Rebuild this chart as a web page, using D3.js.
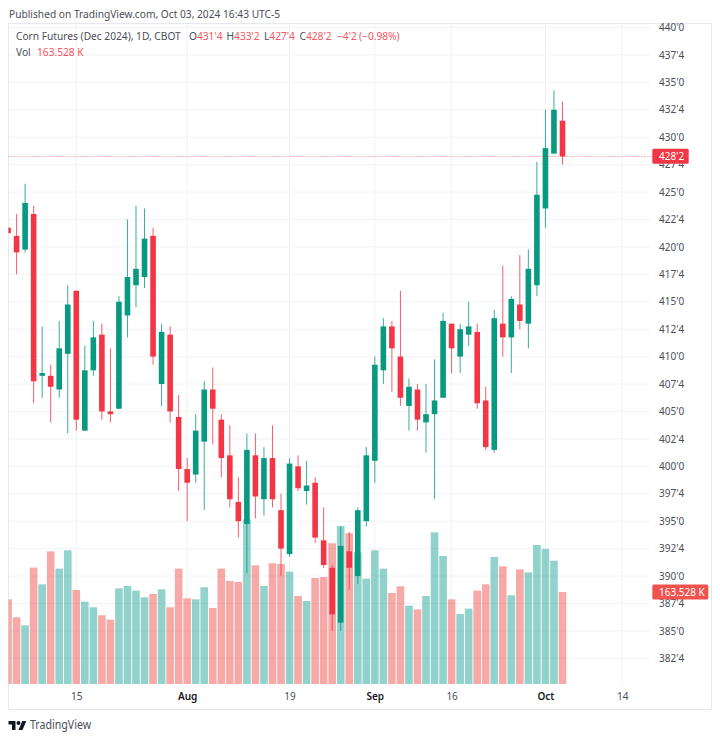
<!DOCTYPE html>
<html>
<head>
<meta charset="utf-8">
<script src="https://cdn.jsdelivr.net/npm/d3@7"></script>
<style>
    html, body { margin: 0; padding: 0; background: #fff; }
    svg { display: block; }
    text { font-family: "Noto Sans", "Open Sans", sans-serif; }
    .axis path, .axis line { display: none; }
    .axis text { fill: #4a4e57; font-size: 10px; font-family: "Noto Sans", sans-serif; }
</style>
</head>
<body>
<svg id="chart" width="720" height="740"></svg>
<script>
// date, open, high, low, close, volume (K)
const rows = [
    ["Jul 2", 421.75, 421.75, 421.25, 421.25, 150.5],
    ["Jul 3", 421, 423, 417.5, 419.5, 118.5],
    ["Jul 5", 419.75, 425.75, 419.5, 424, 104.3],
    ["Jul 8", 423, 423.75, 405.75, 407.75, 206.8],
    ["Jul 9", 408.25, 412.75, 406.25, 408.5, 177.2],
    ["Jul 10", 408.25, 409.25, 404, 407.25, 235.8],
    ["Jul 11", 407, 413.25, 406.25, 410.75, 205],
    ["Jul 12", 410.25, 416.5, 403, 414.75, 237.6],
    ["Jul 15", 416, 416, 403.25, 404.25, 167.1],
    ["Jul 16", 403.25, 411, 403.25, 408.75, 146.3],
    ["Jul 17", 408.75, 413.25, 408.25, 411.75, 136.3],
    ["Jul 18", 412, 413, 404.25, 405, 122.1],
    ["Jul 19", 405, 410.75, 404, 404.75, 114.4],
    ["Jul 22", 405.25, 415.5, 405.25, 415, 170],
    ["Jul 23", 413.75, 422.5, 411.75, 417.25, 174.2],
    ["Jul 24", 416.5, 423.75, 414.5, 418, 165.9],
    ["Jul 25", 417.25, 423.5, 416.25, 420.75, 154.1],
    ["Jul 26", 421, 421.75, 409.25, 410, 160],
    ["Jul 29", 407.5, 413, 405.5, 412.25, 168.3],
    ["Jul 30", 412, 412.75, 404, 405, 136.3],
    ["Jul 31", 404.5, 406.5, 397.75, 399.75, 205],
    ["Aug 1", 399.75, 400.75, 395, 398.5, 152.3],
    ["Aug 2", 399.25, 404.75, 398.5, 403.25, 150.5],
    ["Aug 5", 402.25, 407.75, 396, 407, 171.8],
    ["Aug 6", 407, 409, 402, 405.25, 135.1],
    ["Aug 7", 404.25, 404.75, 399, 400.75, 205],
    ["Aug 8", 401, 403.75, 396.25, 397, 183.1],
    ["Aug 9", 396.75, 399, 393.5, 395, 181.3],
    ["Aug 12", 394.75, 403, 390.25, 401.5, 292.7],
    ["Aug 13", 401, 403, 395.25, 397.25, 210.9],
    ["Aug 14", 397, 401.75, 395.5, 400.75, 174.2],
    ["Aug 15", 400.75, 403.75, 396.25, 397, 214.5],
    ["Aug 16", 396, 397.5, 390, 392.5, 213.3],
    ["Aug 19", 392, 400.75, 391.75, 400.25, 199.7],
    ["Aug 20", 400, 401, 397.75, 398, 156.4],
    ["Aug 21", 397.75, 400.5, 396.5, 398.25, 147.5],
    ["Aug 22", 398.5, 399, 393, 393.5, 188.4],
    ["Aug 23", 393.25, 396.25, 390.75, 391, 190.2],
    ["Aug 26", 390.75, 391, 385, 386.5, 250],
    ["Aug 27", 385.75, 394.5, 385, 392.75, 280.8],
    ["Aug 28", 392.25, 394, 388.75, 390.75, 267.8],
    ["Aug 29", 390, 396.25, 389.25, 396, 234],
    ["Aug 30", 395, 401.75, 394.5, 401, 187.2],
    ["Sep 3", 400.5, 410, 398.5, 409.25, 237.6],
    ["Sep 4", 408.75, 413.5, 407.5, 412.75, 205],
    ["Sep 5", 412.75, 413.25, 406.75, 410.75, 161.8],
    ["Sep 6", 410, 416, 405.5, 406.25, 173.6],
    ["Sep 9", 405.5, 408, 403.25, 407.25, 139.2],
    ["Sep 10", 407, 407.5, 403.25, 404.25, 132.7],
    ["Sep 11", 404, 407.5, 401.25, 404.75, 156.4],
    ["Sep 12", 404.75, 409.75, 397, 406, 269.6],
    ["Sep 13", 406.25, 414, 406.25, 413.25, 227.5],
    ["Sep 16", 413, 413, 408.5, 410.75, 150.5],
    ["Sep 17", 410, 413, 408.5, 412.5, 124.4],
    ["Sep 18", 412, 415, 411, 412.75, 133.9],
    ["Sep 19", 412.25, 413, 405.25, 405.75, 165.9],
    ["Sep 20", 406, 407.25, 401.5, 401.75, 177.2],
    ["Sep 23", 401.5, 414.25, 401.25, 413.5, 225.7],
    ["Sep 24", 413, 418.25, 410, 411.75, 209.2],
    ["Sep 25", 411.75, 415.5, 408.5, 415.25, 157.6],
    ["Sep 26", 414.75, 419.25, 412.5, 413.25, 203.8],
    ["Sep 27", 413, 419.75, 410.75, 418, 198.5],
    ["Sep 30", 416.5, 427.75, 415.5, 424.75, 247.1],
    ["Oct 1", 423.5, 432.5, 421.75, 429, 240],
    ["Oct 2", 428.5, 434.25, 428.5, 432.5, 219.2],
    ["Oct 3", 431.5, 433.25, 427.5, 428.25, 163.528]
];
const data = rows.map((r, i) => ({ i, date: r[0], open: r[1], high: r[2], low: r[3], close: r[4], vol: r[5] }));

const UP = "#089981", DOWN = "#f23645";
const VOL_UP = "rgba(38,166,154,0.5)", VOL_DOWN = "rgba(239,83,80,0.5)";
const GRID = "#f1f2f4", BORDER = "#e6e8ee", TEXT = "#4a4e57";

const frame = { left: 8.5, right: 711.5, top: 23.5, bottom: 709.5 };
const pane = { left: 8.5, right: 650, top: 24, bottom: 684 };

// x is by trading session, so weekends and holidays take no room
const x = d3.scaleLinear().domain([0, 72]).range([8.05, 622.2]);
const y = d3.scaleLinear().domain([435, 382.5]).range([82.3, 658.3]);
const yVol = d3.scaleLinear().domain([0, 300]).range([684, 515.2]);

const BODY_W = 5.6, VOL_W = 7.6;
const isUp = d => d.close >= d.open;
const fmtPrice = v => {
    const whole = Math.floor(v);
    return `${whole}'${Math.round((v - whole) * 8)}`;
};

const svg = d3.select("#chart");

svg.append("defs").append("clipPath").attr("id", "pane")
    .append("rect")
    .attr("x", pane.left).attr("y", pane.top)
    .attr("width", pane.right - pane.left).attr("height", pane.bottom - pane.top);

// --- frame ---
svg.append("rect")
    .attr("x", frame.left).attr("y", frame.top)
    .attr("width", frame.right - frame.left).attr("height", frame.bottom - frame.top)
    .attr("fill", "#fff").attr("stroke", BORDER);

// --- grid ---
const priceTicks = d3.range(382.5, 440.1, 2.5);
const timeTicks = new Map([[8, "15"], [21, "Aug"], [33, "19"], [43, "Sep"], [52, "16"], [63, "Oct"], [72, "14"]]);

svg.append("g").selectAll("line").data(priceTicks).enter().append("line")
    .attr("x1", pane.left).attr("x2", pane.right)
    .attr("y1", d => y(d)).attr("y2", d => y(d))
    .attr("stroke", GRID);

svg.append("g").selectAll("line").data([...timeTicks.keys()]).enter().append("line")
    .attr("x1", d => x(d)).attr("x2", d => x(d))
    .attr("y1", pane.top).attr("y2", pane.bottom)
    .attr("stroke", GRID);

const plot = svg.append("g").attr("clip-path", "url(#pane)");

// --- volume ---
plot.append("g").selectAll("rect").data(data).enter().append("rect")
    .attr("x", d => x(d.i) - VOL_W / 2)
    .attr("width", VOL_W)
    .attr("y", d => yVol(d.vol))
    .attr("height", d => yVol(0) - yVol(d.vol))
    .attr("fill", d => isUp(d) ? VOL_UP : VOL_DOWN);

// --- candles ---
const candle = plot.append("g").selectAll("g").data(data).enter().append("g");

candle.append("line")
    .attr("x1", d => x(d.i)).attr("x2", d => x(d.i))
    .attr("y1", d => y(d.high)).attr("y2", d => y(d.low))
    .attr("stroke", d => isUp(d) ? UP : DOWN)
    .attr("stroke-opacity", 0.8)
    .attr("stroke-width", 1);

candle.append("rect")
    .attr("x", d => x(d.i) - BODY_W / 2)
    .attr("width", BODY_W)
    .attr("y", d => y(Math.max(d.open, d.close)))
    .attr("height", d => Math.max(1, Math.abs(y(d.open) - y(d.close))))
    .attr("fill", d => isUp(d) ? UP : DOWN);

// --- last price line ---
const last = data[data.length - 1];
const lastY = Math.floor(y(last.close)) + 0.5;
svg.append("line")
    .attr("x1", pane.left).attr("x2", 652)
    .attr("y1", lastY).attr("y2", lastY)
    .attr("stroke", DOWN).attr("stroke-opacity", 0.7)
    .attr("stroke-dasharray", "1 2");

// --- axes ---
svg.append("g").attr("class", "axis")
    .attr("transform", "translate(650,0)")
    .call(d3.axisRight(y).tickValues(priceTicks).tickFormat(fmtPrice).tickSize(0).tickPadding(9));

const timeAxis = svg.append("g").attr("class", "axis")
    .attr("transform", "translate(0,684)")
    .call(d3.axisBottom(x).tickValues([...timeTicks.keys()]).tickFormat(d => timeTicks.get(d)).tickSize(0).tickPadding(9));

timeAxis.selectAll("text")
    .attr("font-weight", d => isNaN(timeTicks.get(d)) ? 600 : 400)
    .style("fill", d => isNaN(timeTicks.get(d)) ? "#131722" : TEXT);

// --- axis labels for the last values ---
function axisTag(yMid, w, h, label, fill) {
    svg.append("rect")
        .attr("x", 652.3).attr("y", yMid - h / 2)
        .attr("width", w).attr("height", h).attr("rx", 1.5)
        .attr("fill", fill);
    svg.append("text")
        .attr("x", 659).attr("y", yMid + 3.6)
        .attr("fill", "#fff").attr("font-size", 10)
        .text(label);
}
axisTag(y(last.close), 36.4, 15, fmtPrice(last.close), DOWN);
axisTag(yVol(last.vol), 56, 15, "163.528 K", "#ef5350");

// --- header text ---
svg.append("text")
    .attr("x", 9).attr("y", 17.5)
    .attr("fill", TEXT).attr("font-size", 10.2)
    .text("Published on TradingView.com, Oct 03, 2024 16:43 UTC-5");

const legend = svg.append("text").attr("x", 16).attr("y", 40).attr("font-size", 10.2).attr("fill", TEXT);
legend.append("tspan").text("Corn Futures (Dec 2024), 1D, CBOT");
const ohlc = [["O", "431'4", 189], ["H", "433'2", 226.5], ["L", "427'4", 264], ["C", "428'2", 299.5]];
ohlc.forEach(([k, v, px]) => {
    legend.append("tspan").attr("x", px).text(k);
    legend.append("tspan").attr("fill", "#f7525f").text(v);
});
legend.append("tspan").attr("x", 337).attr("fill", "#f7525f").text("\u22124'2");
legend.append("tspan").attr("x", 359).attr("fill", "#f7525f").text("(\u22120.98%)");

const volLegend = svg.append("text").attr("y", 55.5).attr("font-size", 10.2);
volLegend.append("tspan").attr("x", 16).attr("fill", TEXT).text("Vol");
volLegend.append("tspan").attr("x", 37).attr("fill", "#f7525f").text("163.528 K");

// --- footer logo ---
const logo = svg.append("g").attr("transform", "translate(8.5,719) scale(0.5)").attr("fill", "#131722");
logo.append("path").attr("d", "M14 22H7V11H0V4h14v18zM28 22h-8l7.5-18h8L28 22z");
logo.append("circle").attr("cx", 20).attr("cy", 8).attr("r", 4);

svg.append("text")
    .attr("x", 30).attr("y", 728.5)
    .attr("fill", TEXT).attr("font-size", 12)
    .attr("textLength", 61).attr("lengthAdjust", "spacingAndGlyphs")
    .text("TradingView");
</script>
</body>
</html>
